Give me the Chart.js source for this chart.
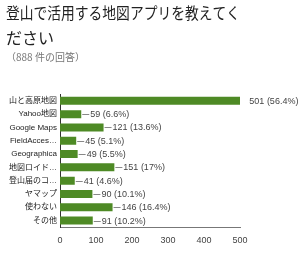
<!DOCTYPE html>
<html><head><meta charset="utf-8">
<script src="https://cdn.jsdelivr.net/npm/chart.js@4/dist/chart.umd.min.js"></script>
<style>html,body{margin:0;padding:0;background:#fff;}#wrap{width:300px;height:254px;}</style>
</head><body><div id="wrap"><canvas id="c" width="300" height="254"></canvas></div>
<script>
const titleLines = ['登山で活用する地図アプリを教えてく', 'ださい'];
const subtitleText = '（888 件の回答）';
const categories = ['山と高原地図', 'Yahoo地図', 'Google Maps', 'FieldAcces…', 'Geographica', '地図ロイド…', '登山届のコ…', 'ヤマップ', '使わない', 'その他'];
const counts = [501, 59, 121, 45, 49, 151, 41, 90, 146, 91];
const percents = ['56.4%', '6.6%', '13.6%', '5.1%', '5.5%', '17%', '4.6%', '10.1%', '16.4%', '10.2%'];
const xTicks = [0, 100, 200, 300, 400, 500];

const FONT = '"Noto Sans CJK JP", Arial, sans-serif';
const LFONT = 'Arial, "Liberation Sans", "Noto Sans CJK JP", sans-serif';

const valueLabels = {
  id: 'valueLabels',
  afterDatasetsDraw(chart) {
    const ctx = chart.ctx;
    const meta = chart.getDatasetMeta(0);
    ctx.save();
    ctx.font = '9px ' + LFONT;
    ctx.fillStyle = '#444';
    ctx.textBaseline = 'middle';
    ctx.strokeStyle = '#888';
    ctx.lineWidth = 1;
    meta.data.forEach((bar, i) => {
      const x = bar.x, y = bar.y;
      if (i !== 0) {
        ctx.beginPath();
        ctx.moveTo(x + 1, Math.round(y) + 0.5);
        ctx.lineTo(x + 8, Math.round(y) + 0.5);
        ctx.stroke();
      }
      ctx.fillText(counts[i] + ' (' + percents[i] + ')', x + 9, y + 0.5);
    });
    ctx.restore();
  }
};

new Chart(document.getElementById('c'), {
  type: 'bar',
  data: {
    labels: categories,
    datasets: [{
      data: counts,
      backgroundColor: '#4e8a25',
      borderWidth: 0,
      categoryPercentage: 0.6,
      barPercentage: 1.0
    }]
  },
  options: {
    indexAxis: 'y',
    responsive: false,
    animation: false,
    devicePixelRatio: 1,
    layout: { padding: { left: 6, right: 60, top: 0, bottom: 0 } },
    plugins: {
      legend: { display: false },
      tooltip: { enabled: false },
      title: {
        display: true,
        text: titleLines,
        align: 'start',
        color: '#222',
        font: { family: FONT, size: 16, weight: 'normal', lineHeight: 1.6 },
        padding: { top: 0, bottom: 0 }
      },
      subtitle: {
        display: true,
        text: subtitleText,
        align: 'start',
        color: '#777',
        font: { family: FONT, size: 10, weight: 'normal' },
        padding: { top: 0, bottom: 31 }
      }
    },
    scales: {
      x: {
        min: 0, max: 500,
        afterBuildTicks(scale) { scale.ticks = xTicks.map(v => ({ value: v })); },
        grid: { display: false, drawTicks: false },
        border: { display: true, color: '#777', width: 1 },
        ticks: { color: '#444', font: { family: LFONT, size: 9 }, padding: 8 }
      },
      y: {
        grid: { display: false, drawTicks: false },
        border: { display: true, color: '#333', width: 1 },
        ticks: { color: '#222', font: { family: LFONT, size: 8 }, padding: 3, autoSkip: false },
        afterFit(scale) { scale.width = 54; }
      }
    }
  },
  plugins: [valueLabels]
});
</script></body></html>
